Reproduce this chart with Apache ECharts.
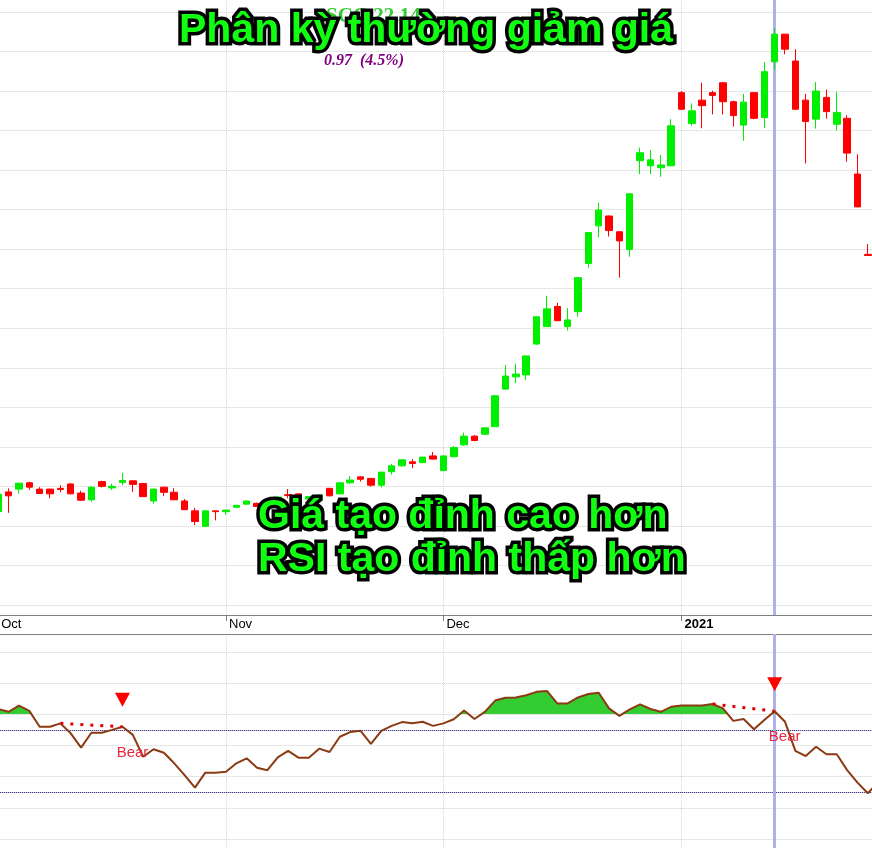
<!DOCTYPE html>
<html><head><meta charset="utf-8">
<script src="https://cdn.jsdelivr.net/npm/echarts@6/dist/echarts.min.js"></script>
<style>html,body{margin:0;padding:0;background:#fff;}#c{width:872px;height:848px;}</style>
</head><body><div id="c"></div>
<script>
const dates = [
 '2020-10-01','2020-10-02','2020-10-05','2020-10-06','2020-10-07','2020-10-08','2020-10-09','2020-10-12','2020-10-13','2020-10-14','2020-10-15','2020-10-16','2020-10-19','2020-10-20','2020-10-21','2020-10-22','2020-10-23','2020-10-26','2020-10-27','2020-10-28','2020-10-29','2020-10-30',
 '2020-11-02','2020-11-03','2020-11-04','2020-11-05','2020-11-06','2020-11-09','2020-11-10','2020-11-11','2020-11-12','2020-11-13','2020-11-16','2020-11-17','2020-11-18','2020-11-19','2020-11-20','2020-11-23','2020-11-24','2020-11-25','2020-11-26','2020-11-27','2020-11-30',
 '2020-12-01','2020-12-02','2020-12-03','2020-12-04','2020-12-07','2020-12-08','2020-12-09','2020-12-10','2020-12-11','2020-12-14','2020-12-15','2020-12-16','2020-12-17','2020-12-18','2020-12-21','2020-12-22','2020-12-23','2020-12-24','2020-12-25','2020-12-28','2020-12-29','2020-12-30','2020-12-31',
 '2021-01-04','2021-01-05','2021-01-06','2021-01-07','2021-01-08','2021-01-11','2021-01-12','2021-01-13','2021-01-14','2021-01-15','2021-01-18','2021-01-19','2021-01-20','2021-01-21','2021-01-22','2021-01-25','2021-01-26','2021-01-27','2021-01-28','2021-01-29'
];
const openP = [15.36,15.86,15.93,16.09,15.93,15.93,15.95,16.06,15.83,15.66,
 16.12,15.96,16.10,16.14,16.07,15.63,15.98,15.85,15.63,15.38,
 14.99,15.38,15.36,15.47,15.55,15.57,15.58,15.65,15.79,15.81,
 15.68,15.65,15.95,15.81,16.09,16.24,16.20,16.03,16.37,16.52,
 16.62,16.60,16.77,16.40,16.75,17.05,17.27,17.32,17.51,18.46,
 18.77,18.82,19.60,20.04,20.55,20.04,20.42,21.64,22.59,22.84,
 22.44,21.99,24.24,24.11,24.06,24.11,25.96,25.18,25.77,25.96,
 26.21,25.73,25.14,25.96,25.33,26.74,27.44,26.76,25.77,25.29,
 25.84,25.16,25.31,23.90,21.87];
const closeP = [15.80,15.76,16.08,15.98,15.82,15.81,15.92,15.81,15.65,15.98,
 16.00,16.00,16.15,16.05,15.74,15.93,15.85,15.66,15.41,15.11,
 15.38,15.36,15.40,15.52,15.63,15.49,15.65,15.73,15.77,15.68,
 15.74,15.78,15.76,16.09,16.16,16.18,16.03,16.36,16.52,16.67,
 16.58,16.74,16.69,16.77,16.98,17.27,17.16,17.48,18.29,18.79,
 18.84,19.30,20.29,20.49,20.19,20.21,21.28,22.42,22.99,22.47,
 22.21,23.40,24.44,24.26,24.13,25.12,25.54,25.50,25.63,25.89,
 25.73,25.38,25.72,25.31,26.49,27.44,27.06,25.54,25.23,26.00,
 25.48,25.46,24.43,23.07,21.84];
const lowP = [15.30,15.33,15.82,15.91,15.81,15.70,15.85,15.80,15.63,15.61,
 15.97,15.91,16.03,15.86,15.73,15.56,15.76,15.65,15.40,15.02,
 14.97,15.14,15.28,15.45,15.54,15.48,15.55,15.63,15.70,15.67,
 15.65,15.64,15.75,15.79,16.06,16.12,15.99,15.97,16.30,16.50,
 16.46,16.59,16.68,16.38,16.74,17.02,17.14,17.30,17.50,18.44,
 18.61,18.69,19.58,20.03,20.18,19.94,20.29,21.53,22.30,22.32,
 21.28,21.81,23.90,23.90,23.83,24.10,25.53,25.12,25.06,25.41,
 25.41,25.10,24.74,25.29,25.06,26.53,26.93,25.53,24.17,25.05,
 25.30,25.00,24.21,23.07,21.83];
const highP = [15.86,15.95,16.09,16.12,15.98,15.94,16.03,16.08,15.89,16.00,
 16.14,16.07,16.34,16.15,16.09,15.94,15.99,15.95,15.68,15.46,
 15.38,15.38,15.40,15.53,15.64,15.59,15.68,15.75,15.93,15.82,
 15.75,15.79,15.96,16.10,16.26,16.25,16.21,16.36,16.57,16.68,
 16.69,16.74,16.87,16.77,17.02,17.36,17.30,17.49,18.31,19.07,
 19.10,19.31,20.30,20.82,20.64,20.51,21.28,22.42,23.18,22.85,
 22.46,23.40,24.57,24.51,24.38,25.29,26.00,25.69,26.21,26.01,
 26.22,25.76,25.93,25.96,26.73,27.59,27.44,27.06,25.93,26.23,
 26.04,25.98,25.39,24.40,22.13];
const rsi = [71.7,70.8,72.8,71.1,66.0,66.0,67.1,63.9,59.3,64.1,
 64.1,65.0,66.0,63.4,56.4,58.8,57.7,54.3,50.5,46.5,
 51.3,51.3,51.6,54.3,55.9,52.9,52.1,56.2,58.3,56.1,
 56.1,59.0,57.9,62.8,64.3,64.7,60.5,64.7,66.3,67.5,
 67.1,67.6,66.3,67.1,68.4,71.2,68.5,70.8,74.4,75.3,
 75.4,76.1,77.2,77.5,73.5,73.5,75.4,76.5,76.9,71.9,
 69.5,71.6,73.2,71.7,70.8,72.4,72.8,72.8,72.8,73.3,
 71.9,67.9,68.5,65.2,68.2,71.0,67.6,58.3,56.6,59.6,
 57.2,57.2,52.1,48.1,44.7,48.3];
const rsiFillLevel = 70;
const rsiGuideLevels = [65, 45];
const divergenceStart = [6, 69];
const bearSignal = [12, 75];
const focusIdx = 75;
const monthNames = ['Jan','Feb','Mar','Apr','May','Jun','Jul','Aug','Sep','Oct','Nov','Dec'];
const titleText = 'Phân kỳ thường giảm giá';
const noteLines = ['Giá tạo đỉnh cao hơn', 'RSI tạo đỉnh thấp hơn'];
const headerText = 'SCC 22.14';
const changeText = '0.97  (4.5%)';

const candles = openP.map((o, i) => [o, closeP[i], lowP[i], highP[i]]);
function isMonthStart(i) { return i === 0 || dates[i].slice(0, 7) !== dates[i - 1].slice(0, 7); }
const FONT = '"Liberation Sans", Arial, sans-serif';
const splitX = { show: true, interval: (i) => isMonthStart(i), lineStyle: { color: '#d4d4d4', type: 'dotted', width: 1 } };
const splitY = { show: true, showMinLine: false, showMaxLine: false, lineStyle: { color: '#cfcfcf', type: 'dotted', width: 1 } };

const chart = echarts.init(document.getElementById('c'), null, { renderer: 'canvas' });
const bigText = (text, x, y, align) => ({
  type: 'text', z: 100, silent: true,
  style: {
    text: text, x: x, y: y, align: align, verticalAlign: 'middle',
    font: 'bold 41px ' + FONT, fill: '#11ff11', stroke: '#000', lineWidth: 7,
    shadowColor: 'rgba(0,0,0,0.55)', shadowBlur: 5, shadowOffsetX: 2, shadowOffsetY: 2
  }
});
const option = {
  animation: false,
  backgroundColor: '#ffffff',
  grid: [
    { left: -1.75, right: -6.2, top: 0, height: 615, containLabel: false, outerBoundsMode: 'none' },
    { left: -1.75, right: -6.2, top: 634, height: 214, containLabel: false, outerBoundsMode: 'none' }
  ],
  xAxis: [
    {
      type: 'category', gridIndex: 0, data: dates, boundaryGap: false,
      axisLine: { show: true, onZero: false, lineStyle: { color: '#808080', width: 1 } },
      axisTick: { show: true, interval: (i) => isMonthStart(i), length: 6, lineStyle: { color: '#808080' } },
      axisLabel: {
        show: true, interval: (i) => isMonthStart(i), align: 'left', margin: 3, padding: [0, 0, 0, 3],
        color: '#000', fontSize: 13, fontFamily: FONT,
        formatter: (v) => v.slice(5, 7) === '01' ? '{y|' + v.slice(0, 4) + '}' : monthNames[+v.slice(5, 7) - 1],
        rich: { y: { fontWeight: 'bold', fontSize: 13, color: '#000', fontFamily: FONT } }
      },
      splitLine: splitX
    },
    {
      type: 'category', gridIndex: 1, data: dates, boundaryGap: false, position: 'top',
      axisLine: { show: true, onZero: false, lineStyle: { color: '#808080', width: 1 } },
      axisTick: { show: false }, axisLabel: { show: false },
      splitLine: splitX
    }
  ],
  yAxis: [
    {
      type: 'value', gridIndex: 0, min: 12.7456, max: 28.3036, splitNumber: 15, scale: true,
      axisLine: { show: false }, axisTick: { show: false }, axisLabel: { show: false },
      splitLine: splitY
    },
    {
      type: 'value', gridIndex: 1, min: 27.15, max: 95.74, splitNumber: 7, scale: true,
      axisLine: { show: false }, axisTick: { show: false }, axisLabel: { show: false },
      splitLine: splitY
    }
  ],
  visualMap: {
    type: 'piecewise', show: false, seriesIndex: 1, dimension: 1,
    pieces: [
      { min: 0, max: rsiFillLevel, color: 'rgba(51,204,51,0)' },
      { min: rsiFillLevel, max: 100, color: '#33cc33' }
    ],
    outOfRange: { color: 'rgba(51,204,51,0)' }
  },
  series: [
    {
      type: 'candlestick', xAxisIndex: 0, yAxisIndex: 0, data: candles, barWidth: 7, z: 3,
      itemStyle: { color: '#00ee00', color0: '#ff0000', borderColor: '#00ee00', borderColor0: '#ff0000', borderWidth: 1 },
      markLine: {
        z: 1, silent: true, symbol: 'none', label: { show: false },
        lineStyle: { color: '#b0b0ee', width: 3, type: 'solid' },
        data: [{ xAxis: dates[focusIdx] }]
      }
    },
    {
      type: 'line', xAxisIndex: 1, yAxisIndex: 1, data: rsi, symbol: 'none', silent: true, z: 2,
      lineStyle: { width: 0 },
      areaStyle: { origin: rsiFillLevel, opacity: 1 },
      markLine: {
        z: 1, silent: true, symbol: 'none', label: { show: false },
        data: [
          { yAxis: rsiGuideLevels[0], lineStyle: { color: '#000066', type: 'dotted', width: 1 } },
          { yAxis: rsiGuideLevels[1], lineStyle: { color: '#000066', type: 'dotted', width: 1 } },
          { xAxis: dates[focusIdx], lineStyle: { color: '#b0b0ee', type: 'solid', width: 3 } }
        ]
      }
    },
    {
      type: 'line', xAxisIndex: 1, yAxisIndex: 1, data: rsi, symbol: 'none', silent: true, z: 4,
      lineStyle: { color: '#8b3a12', width: 2 },
      markLine: {
        z: 6, silent: true, symbol: 'none', label: { show: false },
        lineStyle: { color: '#e00000', type: [3, 7], width: 3 },
        data: divergenceStart.map((s, j) => [
          { coord: [dates[s], rsi[s]] },
          { coord: [dates[bearSignal[j]], rsi[bearSignal[j]]] }
        ])
      },
      markPoint: {
        z: 7, silent: true,
        data: [].concat(...bearSignal.map((b) => [
          { coord: [dates[b], rsi[b]], symbol: 'triangle', symbolRotate: 180, symbolSize: [15, 14], symbolOffset: [0, -27],
            itemStyle: { color: '#ff0000' }, label: { show: false } },
          { coord: [dates[b], rsi[b]], symbol: 'rect', symbolSize: 1, itemStyle: { color: 'rgba(0,0,0,0)' },
            label: { show: true, position: 'inside', offset: [10, 26], formatter: 'Bear', color: '#e6283c', fontSize: 15, fontFamily: FONT } }
        ]))
      }
    }
  ],
  graphic: [
    { type: 'text', z: 50, silent: true, style: { text: headerText, x: 326, y: 6, font: 'bold 21px "Liberation Serif", serif', fill: '#33cc33' } },
    { type: 'text', z: 50, silent: true, style: { text: changeText, x: 324, y: 53, font: 'italic bold 16px "Liberation Serif", serif', fill: '#800080' } },
    bigText(titleText, 426, 31, 'center'),
    bigText(noteLines[0], 258, 517, 'left'),
    bigText(noteLines[1], 258, 560, 'left')
  ]
};
chart.setOption(option);
</script>
</body></html>
